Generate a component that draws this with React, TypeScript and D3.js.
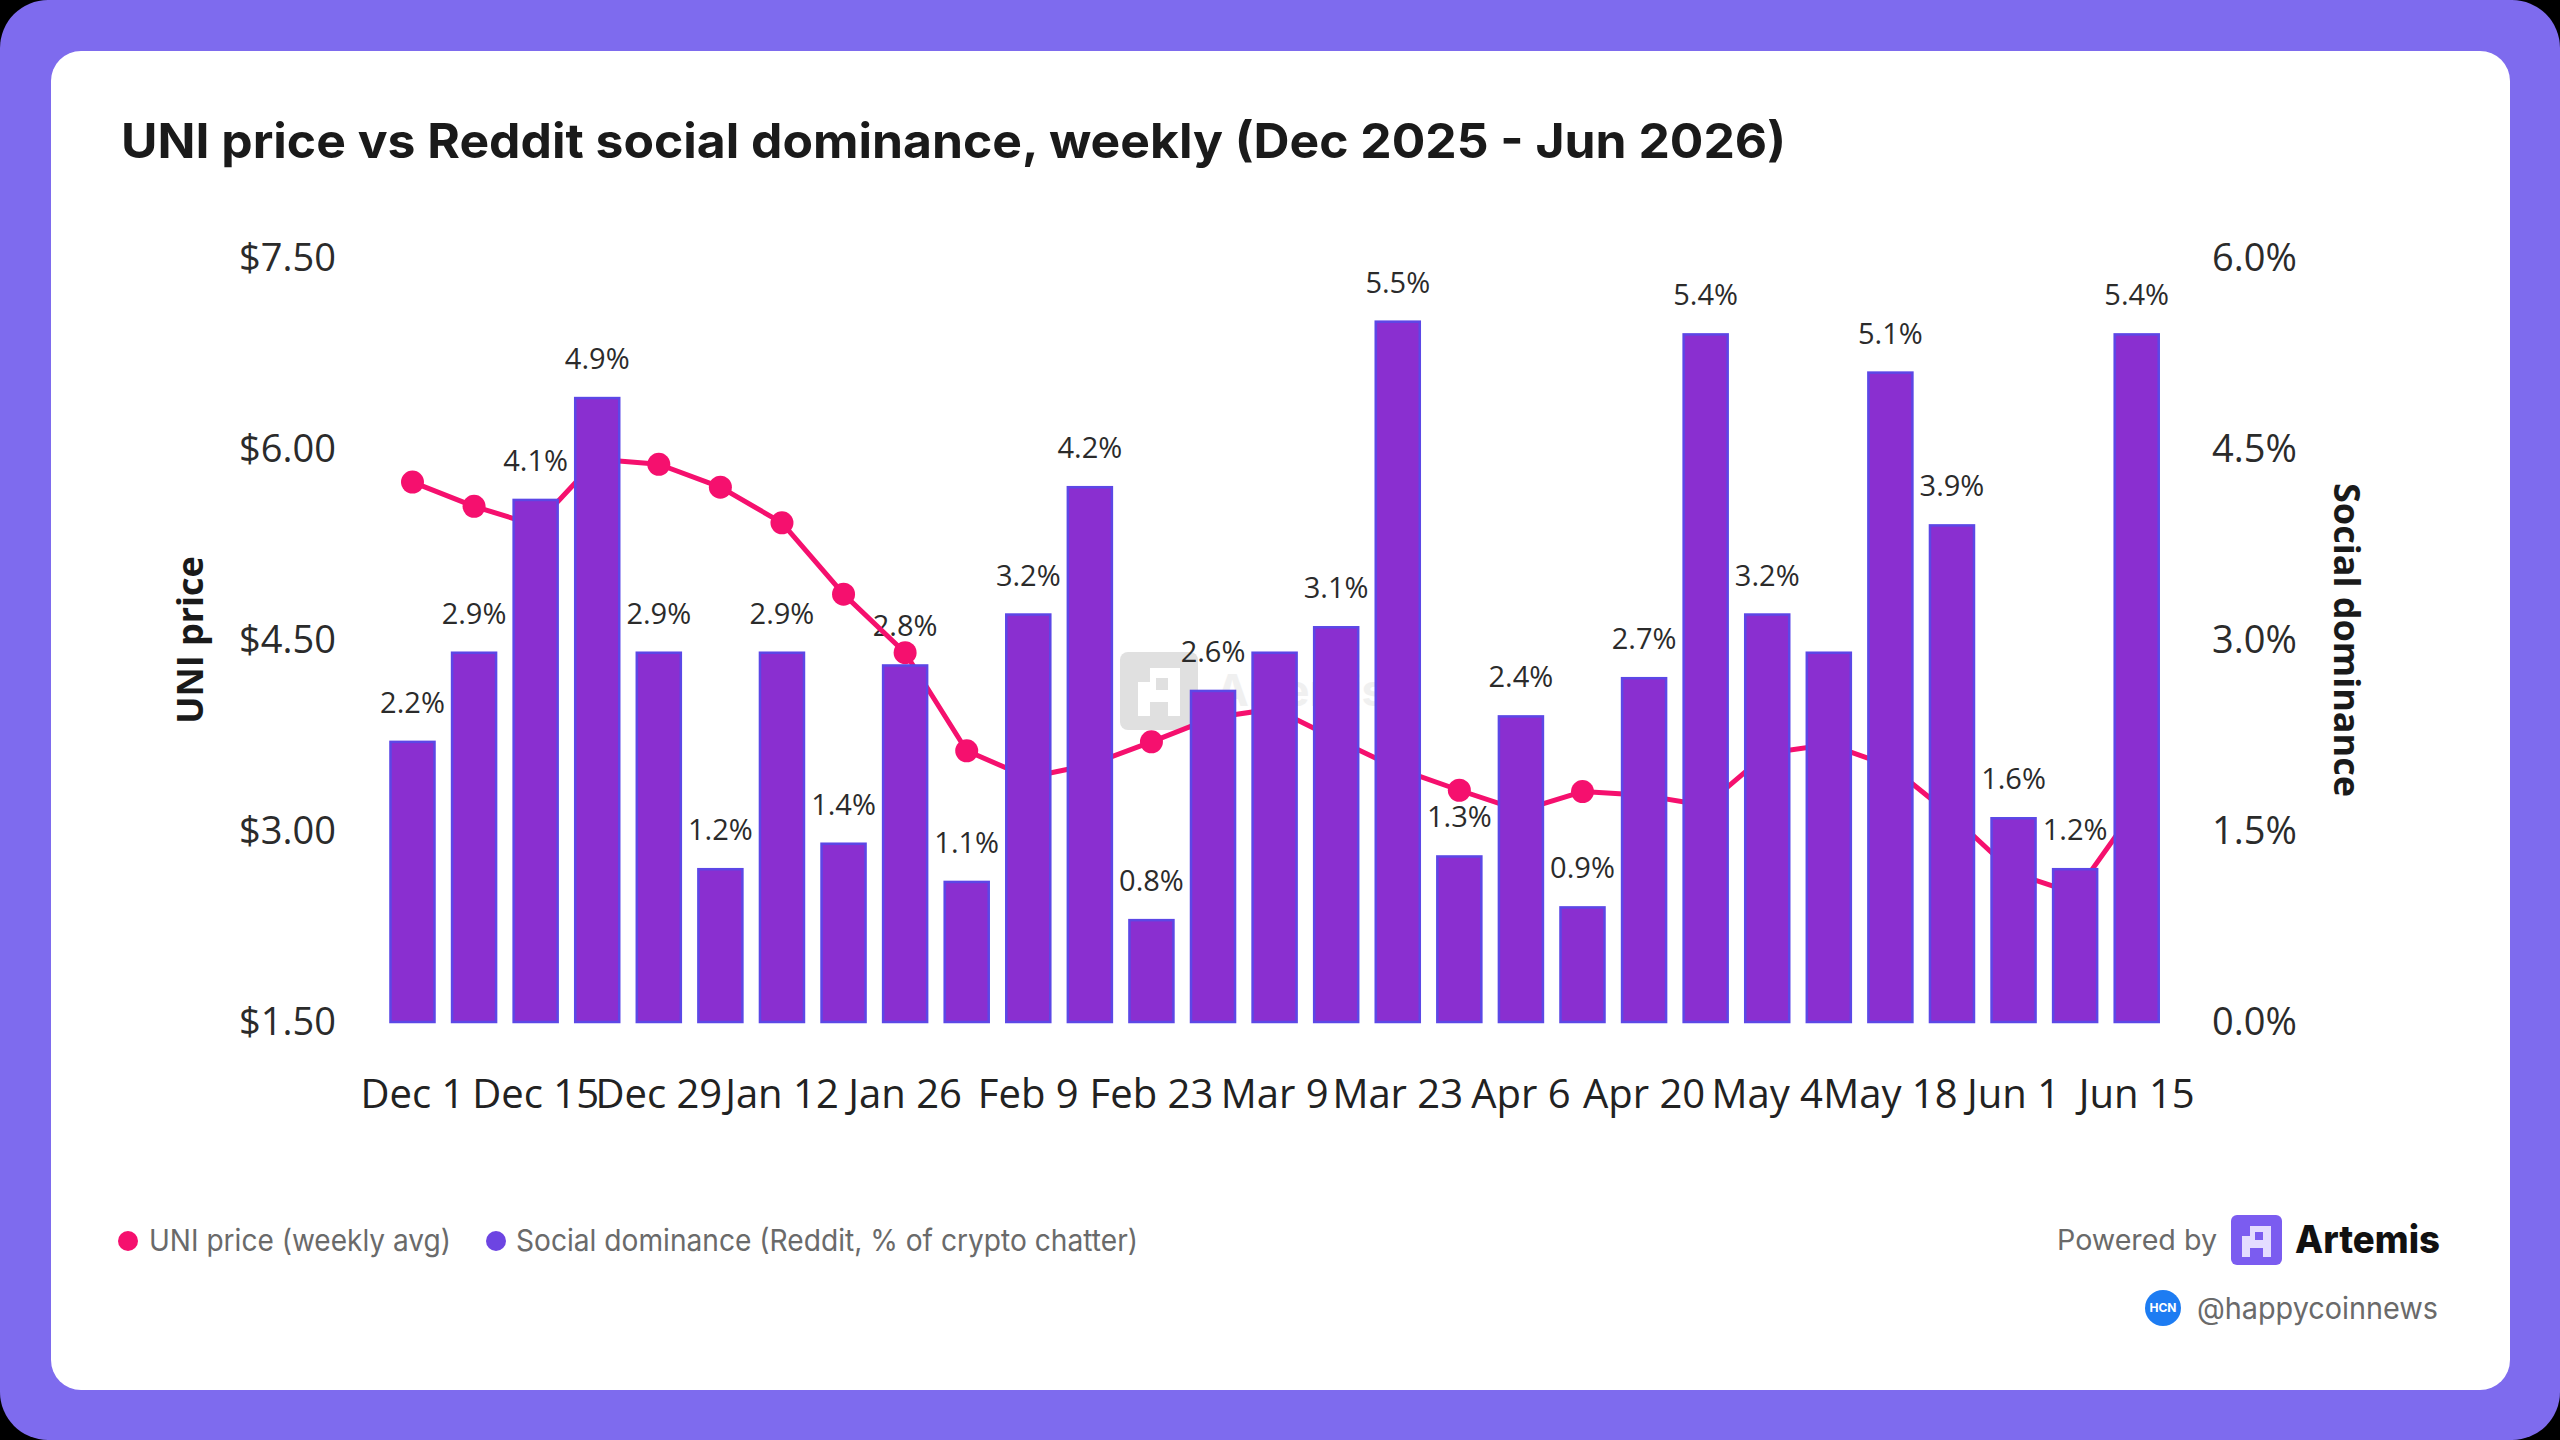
import { useEffect, useRef } from "react";
import * as d3 from "d3";

const WEEKS = [
  "Dec 1", "Dec 8", "Dec 15", "Dec 22", "Dec 29", "Jan 5", "Jan 12", "Jan 19",
  "Jan 26", "Feb 2", "Feb 9", "Feb 16", "Feb 23", "Mar 2", "Mar 9", "Mar 16",
  "Mar 23", "Mar 30", "Apr 6", "Apr 13", "Apr 20", "Apr 27", "May 4", "May 11",
  "May 18", "May 25", "Jun 1", "Jun 8", "Jun 15",
];

// weekly average UNI price ($)
const UNI_PRICE = [
  5.74, 5.55, 5.4, 5.92, 5.88, 5.7, 5.42, 4.86, 4.4, 3.63, 3.42, 3.52, 3.7,
  3.89, 3.96, 3.72, 3.49, 3.32, 3.16, 3.31, 3.28, 3.2, 3.61, 3.68, 3.51, 3.12,
  2.67, 2.51, 3.19,
];

// Reddit social dominance (%)
const SOCIAL_DOM = [
  2.2, 2.9, 4.1, 4.9, 2.9, 1.2, 2.9, 1.4, 2.8, 1.1, 3.2, 4.2, 0.8, 2.6, 2.9,
  3.1, 5.5, 1.3, 2.4, 0.9, 2.7, 5.4, 3.2, 2.9, 5.1, 3.9, 1.6, 1.2, 5.4,
];

// weeks whose bar carries no value label in the source
const UNLABELLED = ["Mar 9", "May 11"];

const PRICE_TICKS = [1.5, 3, 4.5, 6, 7.5];
const DOM_TICKS = [0, 1.5, 3, 4.5, 6];
const X_TICKS = WEEKS.filter((_, i) => i % 2 === 0);

const W = 2560;
const H = 1440;
const CHART_FONT = "'Open Sans', 'Noto Sans', sans-serif";
const UI_FONT = "Inter, 'Noto Sans', sans-serif";
const PINK = "#f5106e";
const BAR_FILL = "#8a2fd0";
const BAR_EDGE = "#5c47e6";

export default function App() {
  const svgRef = useRef<SVGSVGElement | null>(null);

  useEffect(() => {
    document.body.style.margin = "0";
    const svgEl = svgRef.current;
    if (!svgEl) return;
    svgEl.innerHTML = "";
    const svg = d3.select(svgEl);

    // frame + card
    svg.append("rect").attr("width", W).attr("height", H).attr("fill", "#000");
    svg.append("rect").attr("width", W).attr("height", H).attr("rx", 48).attr("fill", "#7e6bee");
    svg
      .append("rect")
      .attr("x", 51)
      .attr("y", 51)
      .attr("width", 2459)
      .attr("height", 1339)
      .attr("rx", 30)
      .attr("fill", "#fff");

    svg
      .append("text")
      .attr("x", 121)
      .attr("y", 158)
      .attr("textLength", 1665)
      .attr("lengthAdjust", "spacingAndGlyphs")
      .attr("font-family", UI_FONT)
      .attr("font-weight", 700)
      .attr("font-size", 48)
      .attr("fill", "#1a1a1a")
      .text("UNI price vs Reddit social dominance, weekly (Dec 2025 - Jun 2026)");

    const x = d3
      .scaleBand<string>()
      .domain(WEEKS)
      .range([381.7, 2167.5])
      .paddingInner(0.285)
      .paddingOuter(0.1425);
    const yPrice = d3.scaleLinear().domain([1.5, 7.5]).range([1022, 258]);
    const yDom = d3.scaleLinear().domain([0, 6]).range([1022, 258]);
    const cx = (w: string) => x(w)! + x.bandwidth() / 2;

    // faint watermark behind the plot
    const wm = svg.append("g").attr("transform", "translate(1120,652)").attr("opacity", 0.75);
    wm.append("rect").attr("width", 78).attr("height", 78).attr("rx", 8).attr("fill", "#d6d6d6");
    wm.append("path")
      .attr("d", "M18 64 V30 H30 V16 H60 V64 H48 V50 H30 V64 Z M36 26 V38 H48 V26 Z")
      .attr("fill", "#fff")
      .attr("fill-rule", "evenodd");
    wm.append("text")
      .attr("x", 96)
      .attr("y", 54)
      .attr("font-family", UI_FONT)
      .attr("font-weight", 700)
      .attr("font-size", 44)
      .attr("fill", "#ececec")
      .text("Artemis");

    const tickStyle = (g: d3.Selection<SVGGElement, unknown, null, undefined>) => {
      g.select(".domain").remove();
      g.selectAll("text")
        .attr("font-family", CHART_FONT)
        .attr("font-size", 38)
        .attr("fill", "#2b2b2b");
    };

    svg
      .append("g")
      .attr("transform", "translate(336,0)")
      .call(
        d3
          .axisLeft(yPrice)
          .tickValues(PRICE_TICKS)
          .tickSize(0)
          .tickPadding(0)
          .tickFormat((d) => `$${(+d).toFixed(2)}`)
      )
      .call(tickStyle);

    svg
      .append("g")
      .attr("transform", "translate(2212,0)")
      .call(
        d3
          .axisRight(yDom)
          .tickValues(DOM_TICKS)
          .tickSize(0)
          .tickPadding(0)
          .tickFormat((d) => `${(+d).toFixed(1)}%`)
      )
      .call(tickStyle);

    const xAxis = svg
      .append("g")
      .attr("transform", "translate(0,1094)")
      .call(d3.axisBottom(x).tickValues(X_TICKS).tickSize(0).tickPadding(0))
      .call(tickStyle);
    xAxis.selectAll("text").attr("y", 0).attr("dy", "0.36em").attr("font-size", 40).attr("fill", "#222");

    // axis titles
    svg
      .append("text")
      .attr("transform", "translate(203,640) rotate(-90)")
      .attr("text-anchor", "middle")
      .attr("font-family", CHART_FONT)
      .attr("font-weight", 700)
      .attr("font-size", 36)
      .attr("fill", "#1a1a1a")
      .text("UNI price");
    svg
      .append("text")
      .attr("transform", "translate(2334,640) rotate(90)")
      .attr("text-anchor", "middle")
      .attr("font-family", CHART_FONT)
      .attr("font-weight", 700)
      .attr("font-size", 36)
      .attr("fill", "#1a1a1a")
      .text("Social dominance");

    const rows = WEEKS.map((w, i) => ({ w, price: UNI_PRICE[i], dom: SOCIAL_DOM[i] }));

    // value labels (under the line, as in the source)
    svg
      .append("g")
      .selectAll("text")
      .data(rows.filter((r) => !UNLABELLED.includes(r.w)))
      .join("text")
      .attr("x", (d) => cx(d.w))
      .attr("y", (d) => yDom(d.dom) - 29)
      .attr("text-anchor", "middle")
      .attr("font-family", CHART_FONT)
      .attr("font-size", 29)
      .attr("fill", "#2b2b2b")
      .text((d) => `${d.dom.toFixed(1)}%`);

    // price line
    const line = d3
      .line<(typeof rows)[number]>()
      .x((d) => cx(d.w))
      .y((d) => yPrice(d.price));
    svg
      .append("path")
      .datum(rows)
      .attr("d", line)
      .attr("fill", "none")
      .attr("stroke", PINK)
      .attr("stroke-width", 5)
      .attr("stroke-linejoin", "round");
    svg
      .append("g")
      .selectAll("circle")
      .data(rows)
      .join("circle")
      .attr("cx", (d) => cx(d.w))
      .attr("cy", (d) => yPrice(d.price))
      .attr("r", 11.5)
      .attr("fill", PINK);

    // bars sit on top of the line
    svg
      .append("g")
      .selectAll("rect")
      .data(rows)
      .join("rect")
      .attr("x", (d) => x(d.w)!)
      .attr("y", (d) => yDom(d.dom))
      .attr("width", x.bandwidth())
      .attr("height", (d) => yDom(0) - yDom(d.dom))
      .attr("fill", BAR_FILL)
      .attr("stroke", BAR_EDGE)
      .attr("stroke-width", 2.5);

    // legend
    const legend = svg.append("g").attr("font-family", UI_FONT).attr("font-size", 30).attr("fill", "#6a6a6a");
    legend.append("circle").attr("cx", 128).attr("cy", 1241).attr("r", 10).attr("fill", PINK);
    legend
      .append("text")
      .attr("x", 149)
      .attr("y", 1240)
      .attr("dy", "0.35em")
      .attr("textLength", 302)
      .attr("lengthAdjust", "spacingAndGlyphs")
      .text("UNI price (weekly avg)");
    legend.append("circle").attr("cx", 496).attr("cy", 1241).attr("r", 10).attr("fill", "#6d45e2");
    legend
      .append("text")
      .attr("x", 516)
      .attr("y", 1240)
      .attr("dy", "0.35em")
      .attr("textLength", 622)
      .attr("lengthAdjust", "spacingAndGlyphs")
      .text("Social dominance (Reddit, % of crypto chatter)");

    // footer
    svg
      .append("text")
      .attr("x", 2057)
      .attr("y", 1240)
      .attr("dy", "0.35em")
      .attr("textLength", 160)
      .attr("lengthAdjust", "spacingAndGlyphs")
      .attr("font-family", UI_FONT)
      .attr("font-size", 28)
      .attr("fill", "#6a6a6a")
      .text("Powered by");
    const logo = svg.append("g").attr("transform", "translate(2231,1215)");
    logo.append("rect").attr("width", 51).attr("height", 50).attr("rx", 6).attr("fill", "#7b5cf0");
    logo
      .append("path")
      .attr("d", "M11 42 V21 H19 V11 H40 V42 H32 V33 H19 V42 Z M24 17 V25 H32 V17 Z")
      .attr("fill", "#e4dcff")
      .attr("fill-rule", "evenodd");
    svg
      .append("text")
      .attr("x", 2295)
      .attr("y", 1240)
      .attr("dy", "0.35em")
      .attr("textLength", 145)
      .attr("lengthAdjust", "spacingAndGlyphs")
      .attr("font-family", UI_FONT)
      .attr("font-weight", 800)
      .attr("font-size", 38)
      .attr("fill", "#111")
      .text("Artemis");

    svg.append("circle").attr("cx", 2163).attr("cy", 1308).attr("r", 18).attr("fill", "#1d7cf2");
    svg
      .append("text")
      .attr("x", 2163)
      .attr("y", 1308)
      .attr("dy", "0.35em")
      .attr("text-anchor", "middle")
      .attr("font-family", UI_FONT)
      .attr("font-weight", 700)
      .attr("font-size", 12)
      .attr("fill", "#fff")
      .text("HCN");
    svg
      .append("text")
      .attr("x", 2197)
      .attr("y", 1308)
      .attr("dy", "0.35em")
      .attr("textLength", 241)
      .attr("lengthAdjust", "spacingAndGlyphs")
      .attr("font-family", UI_FONT)
      .attr("font-size", 30)
      .attr("fill", "#6a6a6a")
      .text("@happycoinnews");
  }, []);

  return <svg ref={svgRef} width={W} height={H} style={{ display: "block" }} />;
}
